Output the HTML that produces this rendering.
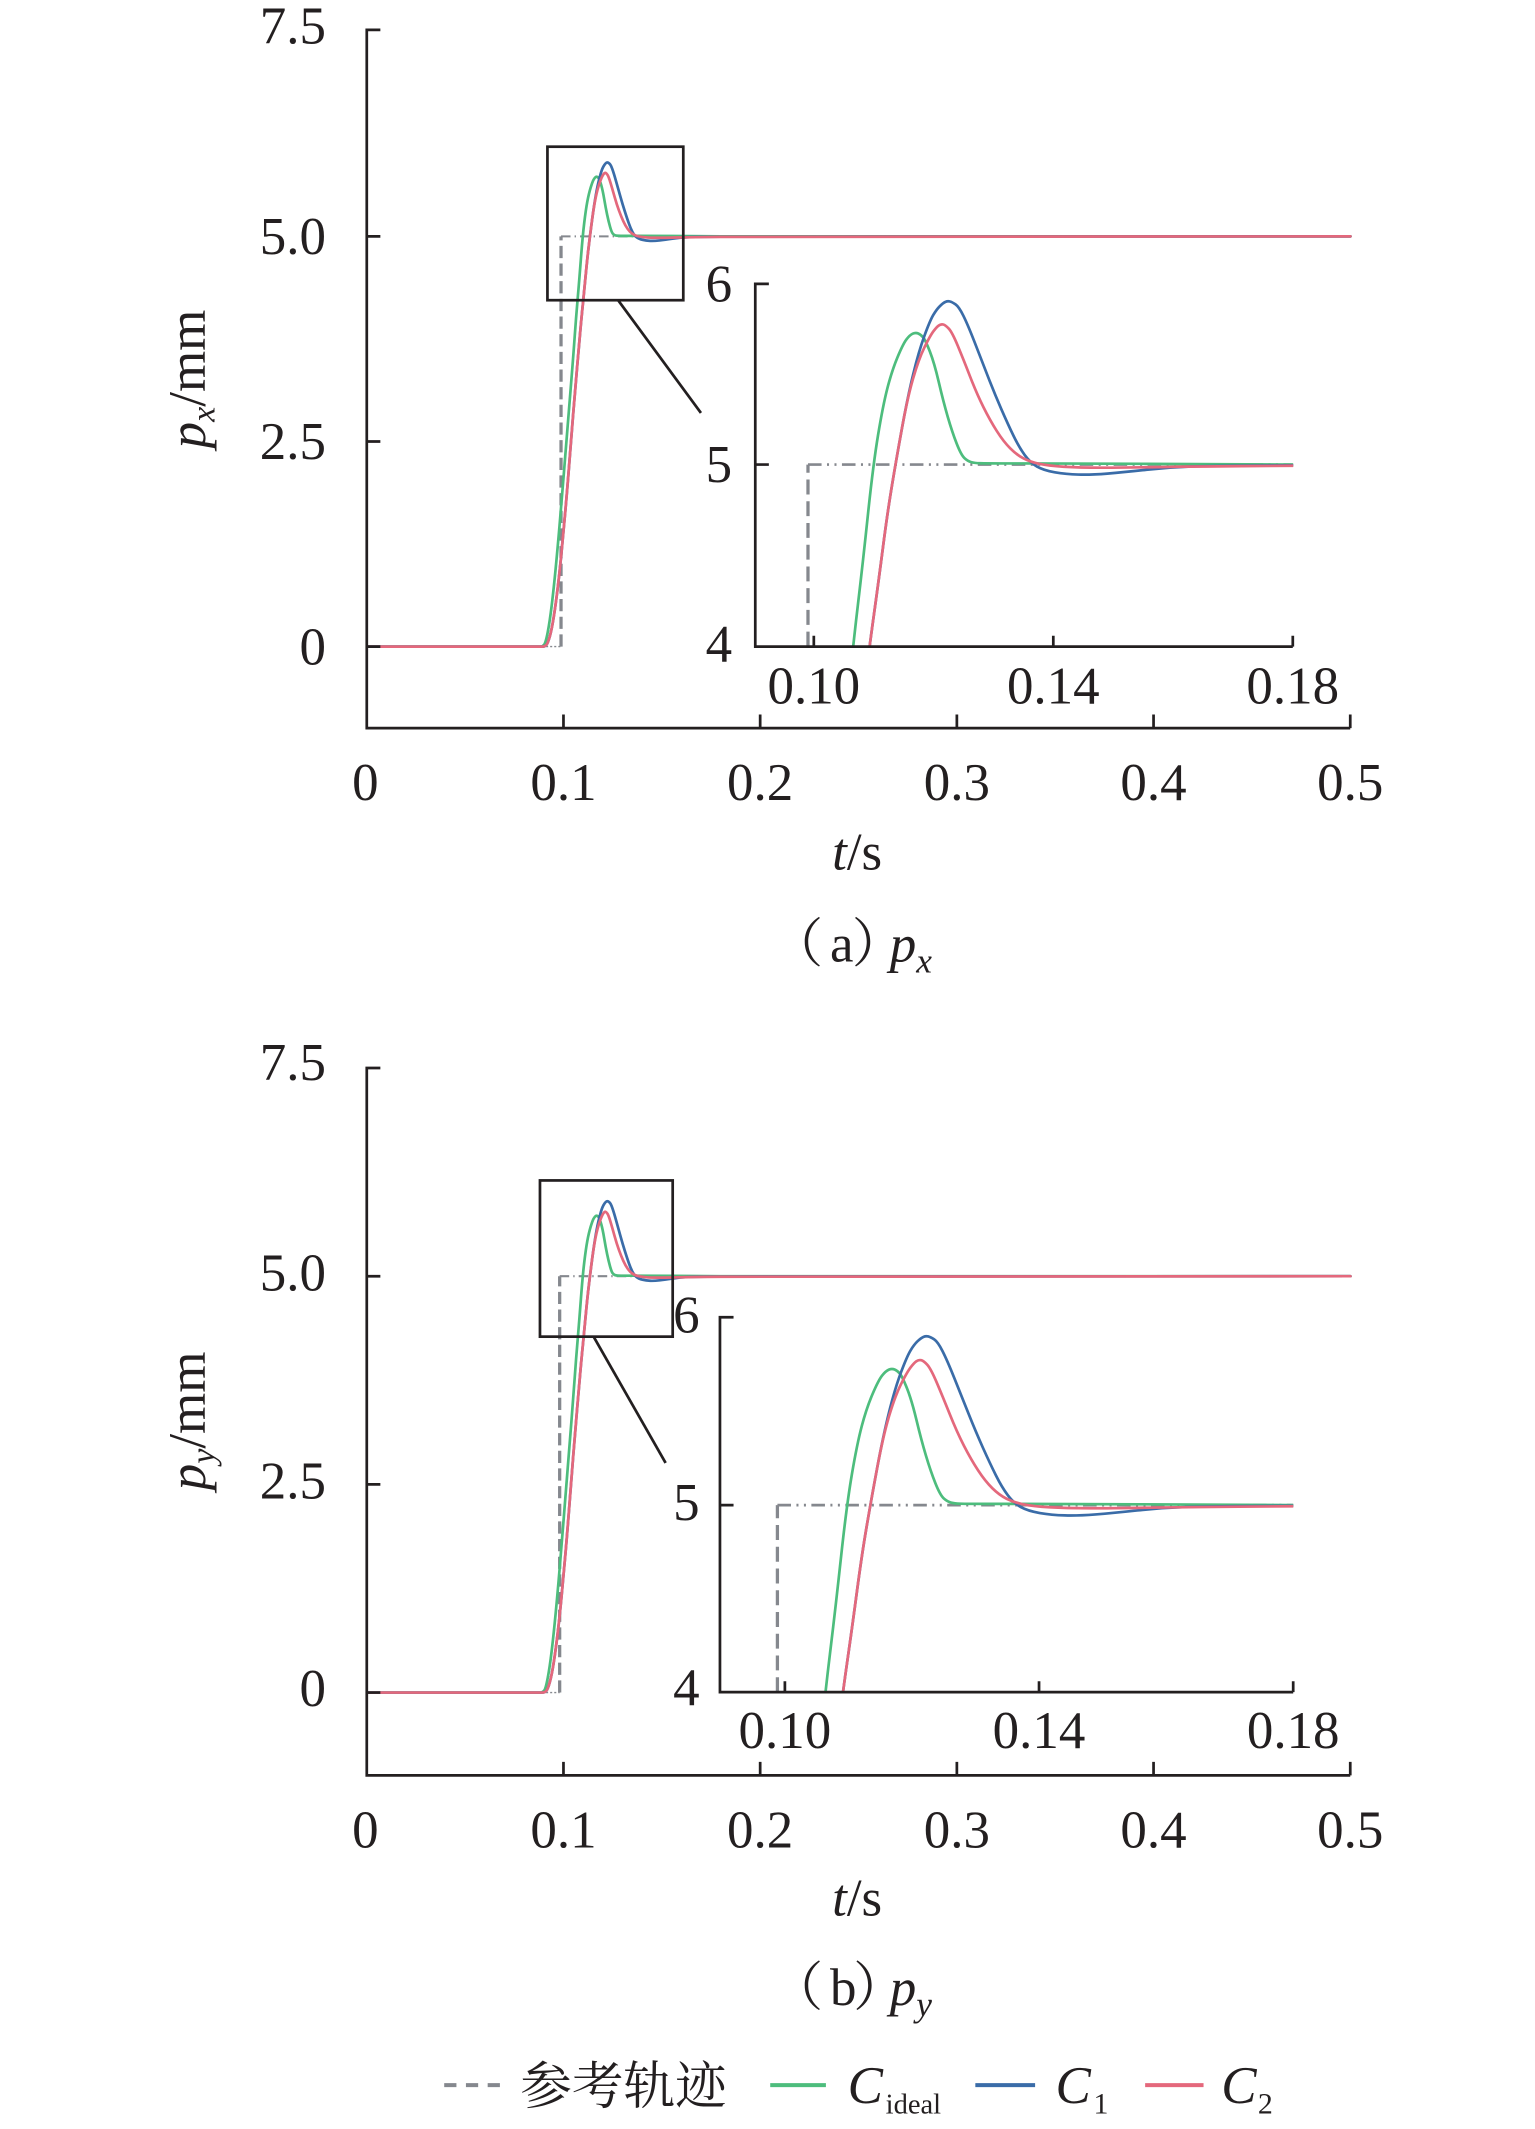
<!DOCTYPE html>
<html><head><meta charset="utf-8"><style>
html,body{margin:0;padding:0;background:#fff;width:1535px;height:2129px;overflow:hidden;}
svg{display:block;font-size:39px;font-family:"Liberation Serif","Noto Serif CJK SC",serif;}
text{fill:#231f20;}
.ax{fill:none;stroke:#231f20;stroke-width:2;}
.cv{fill:none;stroke-width:2.7;stroke-linejoin:round;stroke-linecap:round;}
.g{stroke:#4dbd7d;}
.b{stroke:#3a6ca8;}
.p{stroke:#e4687c;}
.rf{stroke:#85888e;fill:none;}
.cjk{font-family:"Noto Serif CJK SC",serif;}
</style></head><body>
<svg width="1535" height="2129" viewBox="0 0 1130 1567.3" xmlns="http://www.w3.org/2000/svg">
<defs>
<clipPath id="ic" clipPathUnits="userSpaceOnUse"><rect x="121" y="0" width="1208" height="1167"/></clipPath>
</defs>

<!-- ================= (a) ================= -->
<line class="rf" x1="270" y1="476" x2="413" y2="476" stroke-width="1" stroke-dasharray="1.5 1.5"/>
<line class="rf" x1="413" y1="476" x2="413" y2="174" stroke-width="2.4" stroke-dasharray="9 4"/>
<line class="rf" x1="413" y1="174" x2="994" y2="174" stroke-width="1.5" stroke-dasharray="7 3 1 3"/>
<g transform="matrix(0.10814 0 0 0.1277 386.93 85.25)">
<path class="cv g" vector-effect="non-scaling-stroke" d="M-1081,3060 L100,3060 Q117,3060 127,3048 Q137,3036 150.5,2977 Q164,2918 177.5,2823.5 Q191,2729 204.5,2610.5 Q218,2492 231,2362 Q244,2232 257.5,2090.5 Q271,1949 284.5,1807 Q298,1665 311.5,1523 Q325,1381 334,1274 Q343,1167 354,1058.5 Q365,950 376.5,822.5 Q388,695 399,617.5 Q410,540 420,495 Q430,450 442.5,415 Q455,380 462.5,368.5 Q470,357 476.5,353.5 Q483,350 489,353 Q495,356 500,363 Q505,370 515,400 Q525,430 535,480 Q545,530 555,570 Q565,610 575,640 Q585,670 592.5,678 Q600,686 607.5,688.5 Q615,691 627.5,691.5 Q640,692 690,692 L740,692 L1000,693 L1328,695 L5615,695"/>
<path class="cv b" vector-effect="non-scaling-stroke" d="M-1081,3060 L115,3060 Q131,3060 141,3050.5 Q151,3041 164,3003 Q177,2965 190.5,2894 Q204,2823 217.5,2728.5 Q231,2634 244.5,2516 Q258,2398 271.5,2268 Q285,2138 298,1996 Q311,1854 324.5,1712 Q338,1570 351.5,1440 Q365,1310 372.5,1238.5 Q380,1167 390,1083.5 Q400,1000 410,910 Q420,820 430,750 Q440,680 452.5,600 Q465,520 477.5,460 Q490,400 502.5,360 Q515,320 522.5,305 Q530,290 537.5,281.5 Q545,273 550,270.5 Q555,268 560,269.5 Q565,271 572.5,277 Q580,283 590,306.5 Q600,330 615,375 Q630,420 645,465 Q660,510 675,550 Q690,590 702.5,620 Q715,650 727.5,670 Q740,690 755,700 Q770,710 795,715 Q820,720 847.5,721 Q875,722 912.5,718.5 Q950,715 1000,708.5 Q1050,702 1100,700 Q1150,698 1239,697.5 L1328,697 L5615,695"/>
<path class="cv p" vector-effect="non-scaling-stroke" d="M-1081,3060 L115,3060 Q131,3060 141,3050.5 Q151,3041 164,3003 Q177,2965 190.5,2894 Q204,2823 217.5,2728.5 Q231,2634 244.5,2516 Q258,2398 271.5,2268 Q285,2138 298,1996 Q311,1854 324.5,1712 Q338,1570 351.5,1440 Q365,1310 372.5,1238.5 Q380,1167 390,1083.5 Q400,1000 410,910 Q420,820 430,750 Q440,680 452.5,600 Q465,520 477.5,470 Q490,420 502.5,390 Q515,360 522.5,348 Q530,336 535,332 Q540,328 545,329.5 Q550,331 557.5,340.5 Q565,350 577.5,385 Q590,420 605,465 Q620,510 635,545 Q650,580 665,607.5 Q680,635 695,652.5 Q710,670 725,679 Q740,688 760,693 Q780,698 815,700.5 Q850,703 900,703 Q950,703 1025,701.5 Q1100,700 1214,699 L1328,698 L5615,695"/>
</g>
<path class="ax" d="M280,22 L270,22 L270,536 L994,536 M270,174 L280,174 M270,325 L280,325 M270,476 L280,476 M414.8,536 L414.8,526 M559.6,536 L559.6,526 M704.4,536 L704.4,526 M849.2,536 L849.2,526 M994,536 L994,526"/>
<text x="240" y="32" text-anchor="end">7.5</text>
<text x="240" y="187" text-anchor="end">5.0</text>
<text x="240" y="338" text-anchor="end">2.5</text>
<text x="240" y="489" text-anchor="end">0</text>
<text x="269" y="589" text-anchor="middle">0</text>
<text x="414.8" y="589" text-anchor="middle">0.1</text>
<text x="559.6" y="589" text-anchor="middle">0.2</text>
<text x="704.4" y="589" text-anchor="middle">0.3</text>
<text x="849.2" y="589" text-anchor="middle">0.4</text>
<text x="994" y="589" text-anchor="middle">0.5</text>
<text x="631" y="640" text-anchor="middle"><tspan font-style="italic">t</tspan>/s</text>
<text transform="translate(151,279) rotate(-90)" text-anchor="middle"><tspan font-style="italic">p</tspan><tspan font-style="italic" font-size="25" dy="7">x</tspan><tspan dy="-7">/mm</tspan></text>
<rect x="403" y="108" width="100" height="113" fill="none" stroke="#231f20" stroke-width="2"/>
<line x1="455" y1="221" x2="516" y2="304" stroke="#231f20" stroke-width="2"/>
<!-- inset a -->
<line class="rf" x1="594.8" y1="476" x2="594.8" y2="342" stroke-width="2.4" stroke-dasharray="11 5"/>
<line class="rf" x1="594.8" y1="342" x2="951.7" y2="342" stroke-width="2" stroke-dasharray="10 4 1.5 4 1.5 4"/>
<g transform="matrix(0.3286 0 0 0.2822 515.3 145.9)">
<g clip-path="url(#ic)">
<path class="cv g" vector-effect="non-scaling-stroke" d="M325,1381 L334,1274 Q343,1167 354,1058.5 Q365,950 376.5,822.5 Q388,695 399,617.5 Q410,540 420,495 Q430,450 442.5,415 Q455,380 462.5,368.5 Q470,357 476.5,353.5 Q483,350 489,353 Q495,356 500,363 Q505,370 515,400 Q525,430 535,480 Q545,530 555,570 Q565,610 575,640 Q585,670 592.5,678 Q600,686 607.5,688.5 Q615,691 627.5,691.5 Q640,692 690,692 L740,692 L1000,693 L1328,695"/>
<path class="cv b" vector-effect="non-scaling-stroke" d="M351.5,1440 Q365,1310 372.5,1238.5 Q380,1167 390,1083.5 Q400,1000 410,910 Q420,820 430,750 Q440,680 452.5,600 Q465,520 477.5,460 Q490,400 502.5,360 Q515,320 522.5,305 Q530,290 537.5,281.5 Q545,273 550,270.5 Q555,268 560,269.5 Q565,271 572.5,277 Q580,283 590,306.5 Q600,330 615,375 Q630,420 645,465 Q660,510 675,550 Q690,590 702.5,620 Q715,650 727.5,670 Q740,690 755,700 Q770,710 795,715 Q820,720 847.5,721 Q875,722 912.5,718.5 Q950,715 1000,708.5 Q1050,702 1100,700 Q1150,698 1239,697.5 L1328,697"/>
<path class="cv p" vector-effect="non-scaling-stroke" d="M351.5,1440 Q365,1310 372.5,1238.5 Q380,1167 390,1083.5 Q400,1000 410,910 Q420,820 430,750 Q440,680 452.5,600 Q465,520 477.5,470 Q490,420 502.5,390 Q515,360 522.5,348 Q530,336 535,332 Q540,328 545,329.5 Q550,331 557.5,340.5 Q565,350 577.5,385 Q590,420 605,465 Q620,510 635,545 Q650,580 665,607.5 Q680,635 695,652.5 Q710,670 725,679 Q740,688 760,693 Q780,698 815,700.5 Q850,703 900,703 Q950,703 1025,701.5 Q1100,700 1214,699 L1328,698"/>
</g></g>
<path class="ax" d="M566,209 L556,209 L556,476 L951.7,476 M556,342 L566,342 M599.1,476 L599.1,468 M775.4,476 L775.4,468 M951.7,476 L951.7,468"/>
<text x="539" y="222" text-anchor="end">6</text>
<text x="539" y="355" text-anchor="end">5</text>
<text x="539" y="487" text-anchor="end">4</text>
<text x="599.1" y="518" text-anchor="middle">0.10</text>
<text x="775.4" y="518" text-anchor="middle">0.14</text>
<text x="951.7" y="518" text-anchor="middle">0.18</text>
<text class="cjk" x="567" y="708">（</text>
<text x="611" y="708">a</text>
<text class="cjk" x="627" y="708">）</text>
<text x="655" y="708"><tspan font-style="italic">p</tspan><tspan font-style="italic" font-size="26" dy="8">x</tspan></text>

<!-- ================= (b) ================= -->
<line class="rf" x1="270" y1="1246" x2="412" y2="1246" stroke-width="1" stroke-dasharray="1.5 1.5"/>
<line class="rf" x1="412" y1="1246" x2="412" y2="939.5" stroke-width="2.4" stroke-dasharray="9 4"/>
<line class="rf" x1="412" y1="939.5" x2="994" y2="939.5" stroke-width="1.5" stroke-dasharray="7 3 1 3"/>
<g transform="matrix(0.10814 0 0 0.1296 386.93 849.43)">
<path class="cv g" vector-effect="non-scaling-stroke" d="M-1081,3060 L100,3060 Q117,3060 127,3048 Q137,3036 150.5,2977 Q164,2918 177.5,2823.5 Q191,2729 204.5,2610.5 Q218,2492 231,2362 Q244,2232 257.5,2090.5 Q271,1949 284.5,1807 Q298,1665 311.5,1523 Q325,1381 334,1274 Q343,1167 354,1058.5 Q365,950 376.5,822.5 Q388,695 399,617.5 Q410,540 420,495 Q430,450 442.5,415 Q455,380 462.5,368.5 Q470,357 476.5,353.5 Q483,350 489,353 Q495,356 500,363 Q505,370 515,400 Q525,430 535,480 Q545,530 555,570 Q565,610 575,640 Q585,670 592.5,678 Q600,686 607.5,688.5 Q615,691 627.5,691.5 Q640,692 690,692 L740,692 L1000,693 L1328,695 L5615,695"/>
<path class="cv b" vector-effect="non-scaling-stroke" d="M-1081,3060 L115,3060 Q131,3060 141,3050.5 Q151,3041 164,3003 Q177,2965 190.5,2894 Q204,2823 217.5,2728.5 Q231,2634 244.5,2516 Q258,2398 271.5,2268 Q285,2138 298,1996 Q311,1854 324.5,1712 Q338,1570 351.5,1440 Q365,1310 372.5,1238.5 Q380,1167 390,1083.5 Q400,1000 410,910 Q420,820 430,750 Q440,680 452.5,600 Q465,520 477.5,460 Q490,400 502.5,360 Q515,320 522.5,305 Q530,290 537.5,281.5 Q545,273 550,270.5 Q555,268 560,269.5 Q565,271 572.5,277 Q580,283 590,306.5 Q600,330 615,375 Q630,420 645,465 Q660,510 675,550 Q690,590 702.5,620 Q715,650 727.5,670 Q740,690 755,700 Q770,710 795,715 Q820,720 847.5,721 Q875,722 912.5,718.5 Q950,715 1000,708.5 Q1050,702 1100,700 Q1150,698 1239,697.5 L1328,697 L5615,695"/>
<path class="cv p" vector-effect="non-scaling-stroke" d="M-1081,3060 L115,3060 Q131,3060 141,3050.5 Q151,3041 164,3003 Q177,2965 190.5,2894 Q204,2823 217.5,2728.5 Q231,2634 244.5,2516 Q258,2398 271.5,2268 Q285,2138 298,1996 Q311,1854 324.5,1712 Q338,1570 351.5,1440 Q365,1310 372.5,1238.5 Q380,1167 390,1083.5 Q400,1000 410,910 Q420,820 430,750 Q440,680 452.5,600 Q465,520 477.5,470 Q490,420 502.5,390 Q515,360 522.5,348 Q530,336 535,332 Q540,328 545,329.5 Q550,331 557.5,340.5 Q565,350 577.5,385 Q590,420 605,465 Q620,510 635,545 Q650,580 665,607.5 Q680,635 695,652.5 Q710,670 725,679 Q740,688 760,693 Q780,698 815,700.5 Q850,703 900,703 Q950,703 1025,701.5 Q1100,700 1214,699 L1328,698 L5615,695"/>
</g>
<path class="ax" d="M280,786.25 L270,786.25 L270,1307 L994,1307 M270,939.5 L280,939.5 M270,1092.75 L280,1092.75 M270,1246 L280,1246 M414.8,1307 L414.8,1297 M559.6,1307 L559.6,1297 M704.4,1307 L704.4,1297 M849.2,1307 L849.2,1297 M994,1307 L994,1297"/>
<text x="240" y="795" text-anchor="end">7.5</text>
<text x="240" y="950" text-anchor="end">5.0</text>
<text x="240" y="1103" text-anchor="end">2.5</text>
<text x="240" y="1256" text-anchor="end">0</text>
<text x="269" y="1360" text-anchor="middle">0</text>
<text x="414.8" y="1360" text-anchor="middle">0.1</text>
<text x="559.6" y="1360" text-anchor="middle">0.2</text>
<text x="704.4" y="1360" text-anchor="middle">0.3</text>
<text x="849.2" y="1360" text-anchor="middle">0.4</text>
<text x="994" y="1360" text-anchor="middle">0.5</text>
<text x="631" y="1410" text-anchor="middle"><tspan font-style="italic">t</tspan>/s</text>
<text transform="translate(151,1046) rotate(-90)" text-anchor="middle"><tspan font-style="italic">p</tspan><tspan font-style="italic" font-size="25" dy="7">y</tspan><tspan dy="-7">/mm</tspan></text>
<rect x="397.5" y="869" width="97.7" height="115" fill="none" stroke="#231f20" stroke-width="2"/>
<line x1="437" y1="984" x2="490" y2="1077" stroke="#231f20" stroke-width="2"/>
<line class="rf" x1="572.3" y1="1245.7" x2="572.3" y2="1108" stroke-width="2.4" stroke-dasharray="11 5"/>
<line class="rf" x1="572.3" y1="1108" x2="952" y2="1108" stroke-width="2" stroke-dasharray="10 4 1.5 4 1.5 4"/>
<g transform="matrix(0.3494 0 0 0.2918 487.7 905.2)">
<g clip-path="url(#ic)">
<path class="cv g" vector-effect="non-scaling-stroke" d="M325,1381 L334,1274 Q343,1167 354,1058.5 Q365,950 376.5,822.5 Q388,695 399,617.5 Q410,540 420,495 Q430,450 442.5,415 Q455,380 462.5,368.5 Q470,357 476.5,353.5 Q483,350 489,353 Q495,356 500,363 Q505,370 515,400 Q525,430 535,480 Q545,530 555,570 Q565,610 575,640 Q585,670 592.5,678 Q600,686 607.5,688.5 Q615,691 627.5,691.5 Q640,692 690,692 L740,692 L1000,693 L1328,695"/>
<path class="cv b" vector-effect="non-scaling-stroke" d="M351.5,1440 Q365,1310 372.5,1238.5 Q380,1167 390,1083.5 Q400,1000 410,910 Q420,820 430,750 Q440,680 452.5,600 Q465,520 477.5,460 Q490,400 502.5,360 Q515,320 522.5,305 Q530,290 537.5,281.5 Q545,273 550,270.5 Q555,268 560,269.5 Q565,271 572.5,277 Q580,283 590,306.5 Q600,330 615,375 Q630,420 645,465 Q660,510 675,550 Q690,590 702.5,620 Q715,650 727.5,670 Q740,690 755,700 Q770,710 795,715 Q820,720 847.5,721 Q875,722 912.5,718.5 Q950,715 1000,708.5 Q1050,702 1100,700 Q1150,698 1239,697.5 L1328,697"/>
<path class="cv p" vector-effect="non-scaling-stroke" d="M351.5,1440 Q365,1310 372.5,1238.5 Q380,1167 390,1083.5 Q400,1000 410,910 Q420,820 430,750 Q440,680 452.5,600 Q465,520 477.5,470 Q490,420 502.5,390 Q515,360 522.5,348 Q530,336 535,332 Q540,328 545,329.5 Q550,331 557.5,340.5 Q565,350 577.5,385 Q590,420 605,465 Q620,510 635,545 Q650,580 665,607.5 Q680,635 695,652.5 Q710,670 725,679 Q740,688 760,693 Q780,698 815,700.5 Q850,703 900,703 Q950,703 1025,701.5 Q1100,700 1214,699 L1328,698"/>
</g></g>
<path class="ax" d="M540,969.7 L530,969.7 L530,1245.7 L952,1245.7 M530,1108 L540,1108 M577.8,1245.7 L577.8,1237.7 M764.9,1245.7 L764.9,1237.7 M952,1245.7 L952,1237.7"/>
<text x="515" y="981" text-anchor="end">6</text>
<text x="515" y="1119" text-anchor="end">5</text>
<text x="515" y="1255" text-anchor="end">4</text>
<text x="577.8" y="1287" text-anchor="middle">0.10</text>
<text x="764.9" y="1287" text-anchor="middle">0.14</text>
<text x="952" y="1287" text-anchor="middle">0.18</text>
<text class="cjk" x="567" y="1476">（</text>
<text x="611" y="1476">b</text>
<text class="cjk" x="628" y="1476">）</text>
<text x="655" y="1476"><tspan font-style="italic">p</tspan><tspan font-style="italic" font-size="26" dy="8">y</tspan></text>

<!-- ================= legend ================= -->
<line x1="327" y1="1535" x2="371" y2="1535" stroke="#85888e" stroke-width="3" stroke-dasharray="9 7"/>
<text class="cjk" x="383" y="1549" font-size="38">参考轨迹</text>
<line x1="567" y1="1535" x2="608" y2="1535" stroke="#4dbd7d" stroke-width="3"/>
<text x="624" y="1548" font-style="italic">C</text>
<text x="652" y="1556" font-size="21">ideal</text>
<line x1="718" y1="1535" x2="762" y2="1535" stroke="#3a6ca8" stroke-width="3"/>
<text x="777" y="1548" font-style="italic">C</text>
<text x="805" y="1556" font-size="22">1</text>
<line x1="843" y1="1535" x2="886" y2="1535" stroke="#e4687c" stroke-width="3"/>
<text x="899" y="1548" font-style="italic">C</text>
<text x="926" y="1556" font-size="22">2</text>
</svg>
</body></html>
